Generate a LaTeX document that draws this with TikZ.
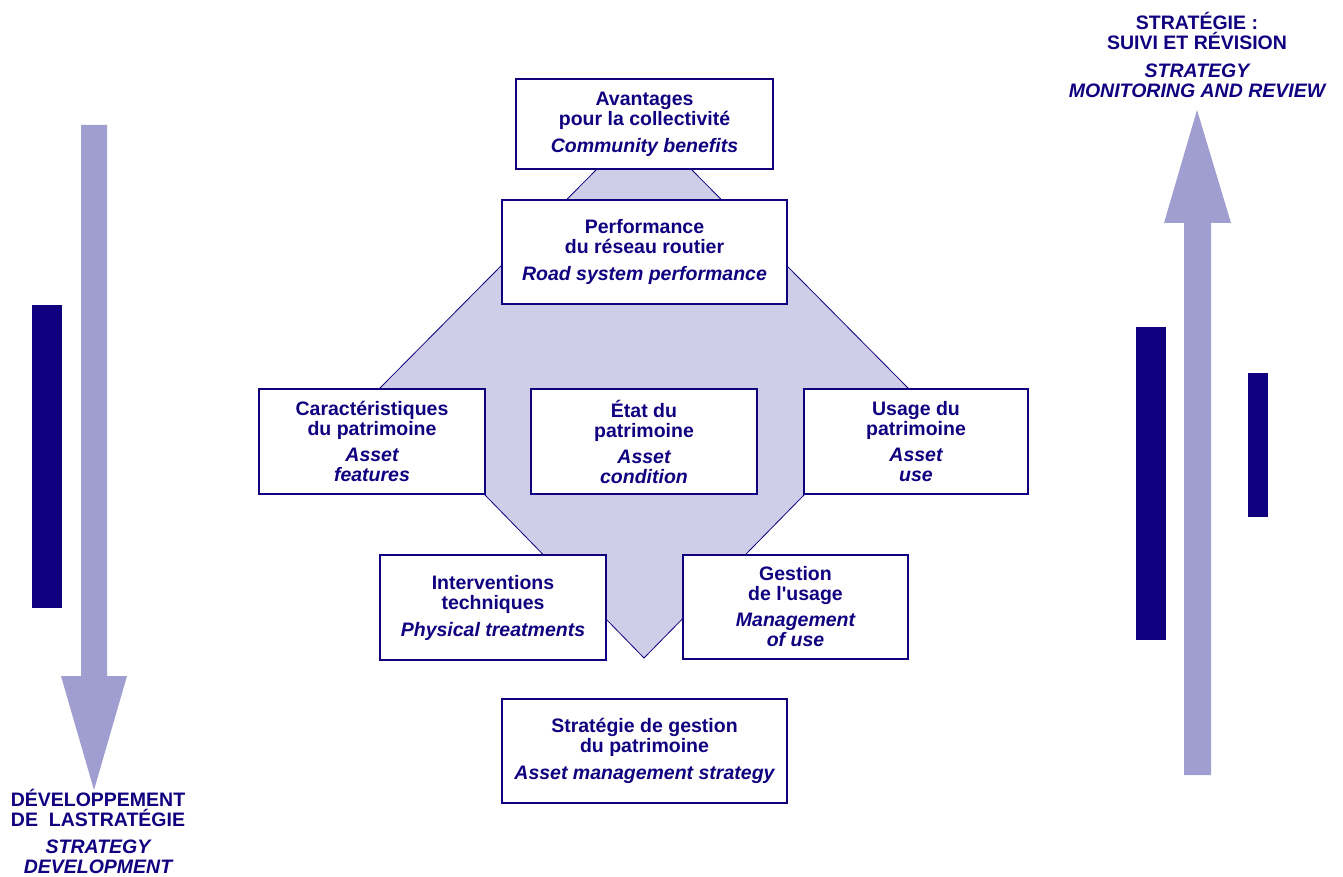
\documentclass[tikz,border=0pt]{standalone}
\usepackage{fontspec}
\setmainfont{Liberation Sans}
\definecolor{navy}{RGB}{16,0,128}
\definecolor{lilac}{RGB}{160,157,208}
\definecolor{paleLilac}{RGB}{207,205,232}

\begin{document}
\begin{tikzpicture}[x=1pt,y=-1pt]

\tikzset{BoxStyle/.style = {draw=navy, line width=1.2pt, fill=white, text=navy,
                            align=center, inner sep=0pt,
                            font=\fontsize{19.5}{20}\selectfont\bfseries}}
\tikzset{LabelStyle/.style = {text=navy, align=center, inner sep=0pt,
                              font=\fontsize{19.5}{20}\selectfont\bfseries}}

\useasboundingbox (0,0) rectangle (1343,877);

\fill[lilac] (81,125) -- (107,125) -- (107,676) -- (127,676) -- (94,790)
             -- (61,676) -- (81,676) -- cycle;
\fill[lilac] (1184,775) -- (1211,775) -- (1211,223) -- (1231,223) -- (1197,110)
             -- (1164,223) -- (1184,223) -- cycle;

\fill[navy] (32,305) rectangle (62,608);
\fill[navy] (1136,327) rectangle (1166,640);
\fill[navy] (1248,373) rectangle (1268,517);

\filldraw[fill=paleLilac, draw=navy, line width=0.8pt]
  (598,168) -- (690,168) -- (908,388) -- (805,494) -- (644,658)
  -- (484,494) -- (380,388) -- cycle;

\node[BoxStyle, minimum width=257pt, minimum height=90pt]  (benefits)    at (644.5,124)  {Avantages\\pour la collectivité\\[7pt]\itshape Community benefits};
\node[BoxStyle, minimum width=285pt, minimum height=104pt] (performance) at (644.5,252)  {Performance\\du réseau routier\\[7pt]\itshape Road system performance};
\node[BoxStyle, minimum width=226pt, minimum height=105pt] (features)    at (372,441.5)  {Caractéristiques\\du patrimoine\\[6pt]\itshape Asset\\\itshape features};
\node[BoxStyle, minimum width=226pt, minimum height=105pt] (condition)   at (644,441.5)  {État du\\patrimoine\\[6pt]\itshape Asset\\\itshape condition};
\node[BoxStyle, minimum width=224pt, minimum height=105pt] (use)         at (916,441.5)  {Usage du\\patrimoine\\[6pt]\itshape Asset\\\itshape use};
\node[BoxStyle, minimum width=226pt, minimum height=105pt] (treatments)  at (493,607.5)  {Interventions\\techniques\\[7pt]\itshape Physical treatments};
\node[BoxStyle, minimum width=225pt, minimum height=104pt] (management)  at (795.5,607)  {Gestion\\de l\textquotesingle usage\\[6pt]\itshape Management\\\itshape of use};
\node[BoxStyle, minimum width=285pt, minimum height=104pt] (strategy)    at (644.5,751)  {Stratégie de gestion\\du patrimoine\\[7pt]\itshape Asset management strategy};

\node[LabelStyle, anchor=north] (develop) at (98,789)  {DÉVELOPPEMENT\\DE\ \ LASTRATÉGIE\\[7pt]\itshape STRATEGY\\\itshape DEVELOPMENT};
\node[LabelStyle, anchor=north] (review)  at (1197,12) {STRATÉGIE :\\SUIVI ET RÉVISION\\[8pt]\itshape STRATEGY\\\itshape MONITORING AND REVIEW};

\end{tikzpicture}
\end{document}
